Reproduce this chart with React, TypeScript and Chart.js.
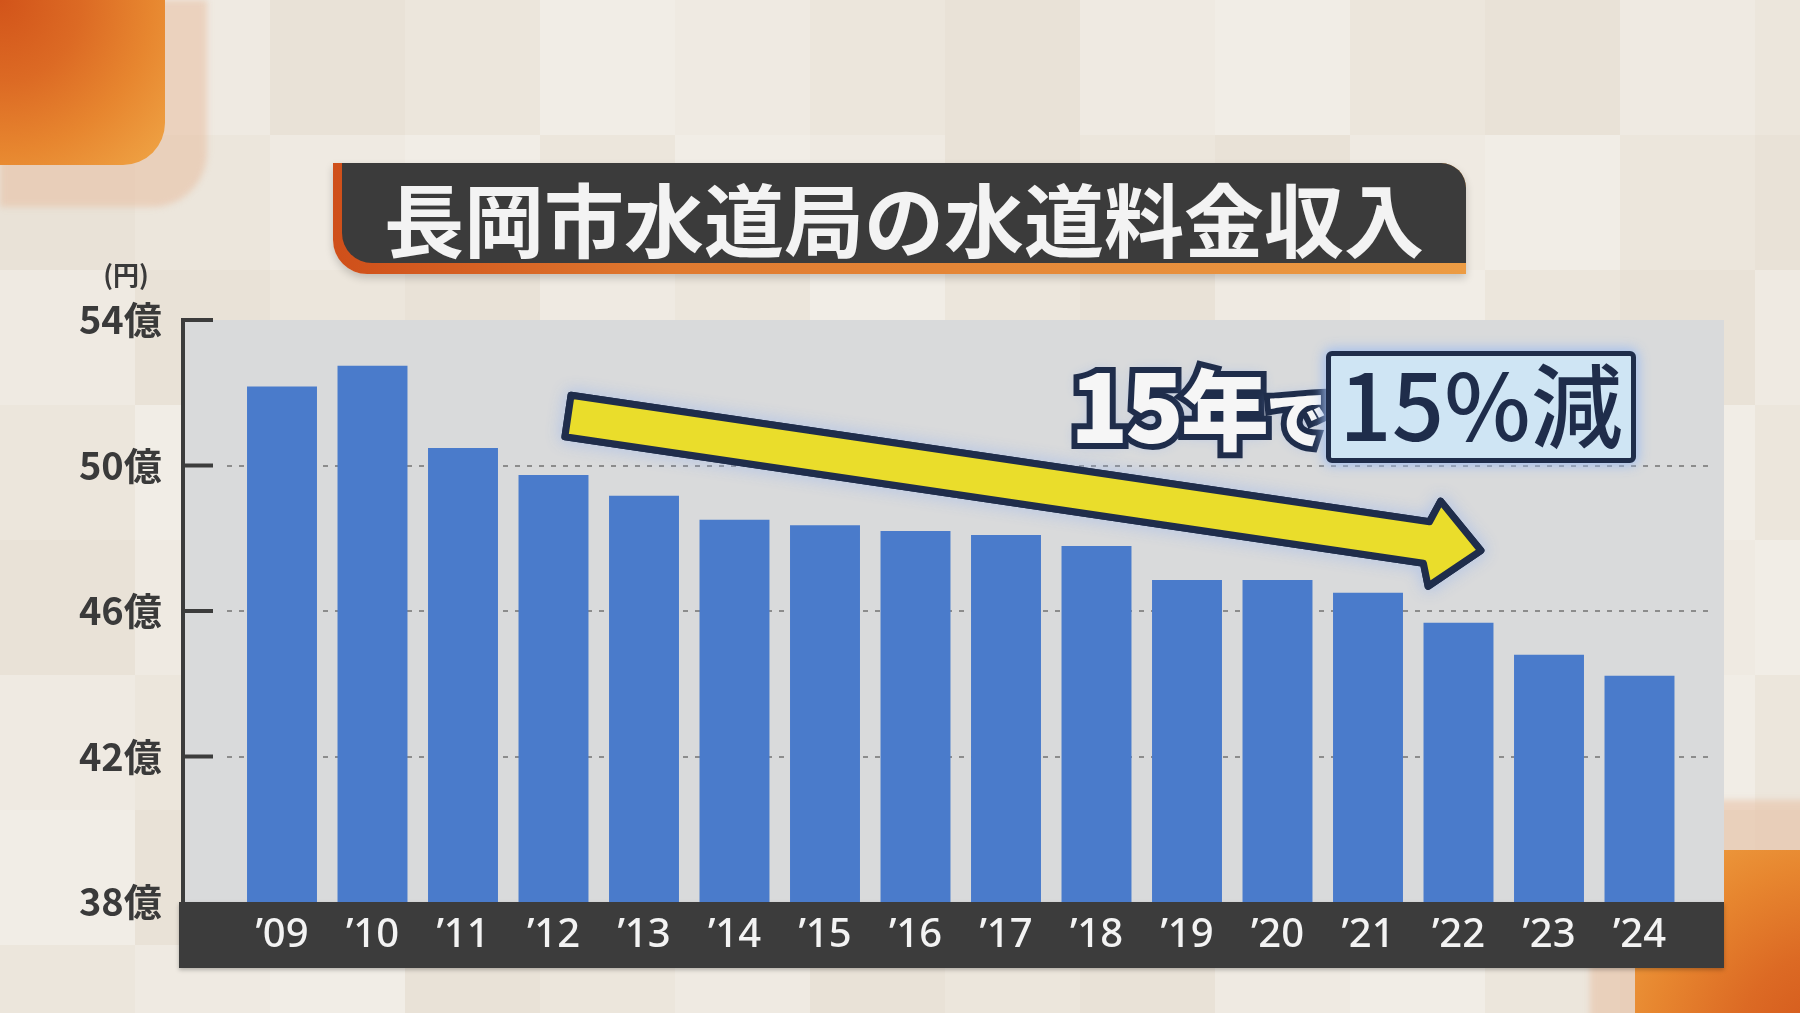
import React, { useEffect, useRef } from "react";
import { Chart, registerables } from "chart.js";

Chart.register(...registerables);

// ---- data ----
const categories = ["’09", "’10", "’11", "’12", "’13", "’14", "’15", "’16", "’17", "’18", "’19", "’20", "’21", "’22", "’23", "’24"];
const revenue = [52.17, 52.74, 50.48, 49.74, 49.17, 48.51, 48.36, 48.2, 48.09, 47.79, 46.85, 46.85, 46.5, 45.68, 44.8, 44.22];
const yTicks = [38, 42, 46, 50, 54];
const dashedTicks = [42, 46, 50];
const yUnit = "億";
const yAxisTitle = "(円)";
const titleText = "長岡市水道局の水道料金収入";
const noteLead = ["15", "年", "で"];
const noteBox = "15%減";
const arrowStart = { index: 3.16, value: 51.36 };
const arrowEnd = { index: 13.28, value: 47.65 };

// ---- layout / style ----
const W = 1800;
const H = 1013;
const Y_AXIS_W = 236.75;
const PAD_RIGHT = 115.25;
const PAD_TOP = 320;
const X_BAND_H = 66;
const PAD_BOTTOM = 45;
const AXIS_LINE_X = 183;
const TICK_END_X = 213;
const PLOT_RIGHT = 1724;
const BAND_LEFT = 179;
const DASH_LEFT = 227;
const DASH_RIGHT = 1708;
const NAVY = "#1f2d4b";
const CJK = "'Noto Sans CJK JP', 'Noto Sans', sans-serif";

const BG_SHADES = ["#ece6dc", "#efeae2", "#e9e2d7", "#f1ede6"];
const BG_PATTERN = [
  "01203102130210",
  "20130312021302",
  "12021030213021",
  "03120213021230",
  "21302120310213",
  "10213031202130",
  "32010213021302",
  "01320120213021",
];
const CELL = 135;

const decorPlugin = {
  id: "decor",
  beforeDraw(chart: any) {
    const { ctx, scales } = chart;
    const x = scales.x;
    const y = scales.y;
    const top = y.getPixelForValue(y.max);
    const bottom = y.getPixelForValue(y.min);
    ctx.save();
    ctx.fillStyle = "#d9dadb";
    ctx.fillRect(AXIS_LINE_X, top, PLOT_RIGHT - AXIS_LINE_X, bottom - top);
    ctx.shadowColor = "rgba(0,0,0,0.25)";
    ctx.shadowBlur = 4;
    ctx.shadowOffsetY = 2;
    ctx.fillStyle = "#3c3c3c";
    ctx.fillRect(BAND_LEFT, bottom, PLOT_RIGHT - BAND_LEFT, x.bottom - bottom);
    ctx.shadowColor = "transparent";
    ctx.strokeStyle = "#8c8c8c";
    ctx.lineWidth = 2;
    ctx.setLineDash([5, 7]);
    dashedTicks.forEach((v) => {
      const py = Math.round(y.getPixelForValue(v));
      ctx.beginPath();
      ctx.moveTo(DASH_LEFT, py);
      ctx.lineTo(DASH_RIGHT, py);
      ctx.stroke();
    });
    ctx.setLineDash([]);
    ctx.strokeStyle = "#3c3c3c";
    ctx.lineWidth = 4;
    ctx.beginPath();
    ctx.moveTo(AXIS_LINE_X, top - 2);
    ctx.lineTo(AXIS_LINE_X, bottom);
    ctx.stroke();
    yTicks.forEach((v) => {
      if (v === y.min) return;
      const py = y.getPixelForValue(v);
      ctx.beginPath();
      ctx.moveTo(AXIS_LINE_X - 2, py);
      ctx.lineTo(TICK_END_X, py);
      ctx.stroke();
    });
    ctx.restore();
  },
  afterDatasetsDraw(chart: any) {
    const { ctx, scales } = chart;
    const x = scales.x;
    const y = scales.y;
    const x0 = x.getPixelForValue(arrowStart.index);
    const y0 = y.getPixelForValue(arrowStart.value);
    const x1 = x.getPixelForValue(arrowEnd.index);
    const y1 = y.getPixelForValue(arrowEnd.value);
    const ang = Math.atan2(y1 - y0, x1 - x0);
    const len = Math.hypot(x1 - x0, y1 - y0) - 3;
    const sw = 21;
    const hw = 43;
    const hl = 47;
    ctx.save();
    ctx.translate(x0, y0);
    ctx.rotate(ang);
    const path = () => {
      ctx.beginPath();
      ctx.moveTo(0, -sw);
      ctx.lineTo(len - hl - 8, -sw);
      ctx.lineTo(len - hl, -hw);
      ctx.lineTo(len, 0);
      ctx.lineTo(len - hl, hw);
      ctx.lineTo(len - hl - 8, sw);
      ctx.lineTo(0, sw);
      ctx.closePath();
    };
    ctx.lineJoin = "round";
    ctx.lineWidth = 7;
    ctx.strokeStyle = NAVY;
    ctx.shadowColor = "rgba(150,180,240,0.9)";
    ctx.shadowBlur = 16;
    path();
    ctx.stroke();
    ctx.shadowColor = "transparent";
    ctx.fillStyle = "#eadd2b";
    path();
    ctx.fill();
    ctx.stroke();
    ctx.restore();
  },
};

function ChartCanvas() {
  const ref = useRef<HTMLCanvasElement | null>(null);
  useEffect(() => {
    if (!ref.current) return;
    const chart = new Chart(ref.current, {
      type: "bar",
      data: {
        labels: categories,
        datasets: [
          {
            data: revenue,
            backgroundColor: "#4a7bcb",
            borderWidth: 0,
            barPercentage: 0.773,
            categoryPercentage: 1,
          },
        ],
      },
      options: {
        animation: false,
        responsive: false,
        devicePixelRatio: 1,
        layout: { padding: { top: PAD_TOP, right: PAD_RIGHT, bottom: PAD_BOTTOM, left: 0 } },
        plugins: { legend: { display: false }, tooltip: { enabled: false } },
        scales: {
          x: {
            offset: true,
            grid: { display: false, drawTicks: false },
            border: { display: false },
            ticks: {
              color: "#f3f3f3",
              padding: 10,
              autoSkip: false,
              maxRotation: 0,
              font: { family: "'Noto Sans', sans-serif", size: 40, weight: "500" },
            },
            afterFit: (s: any) => {
              s.height = X_BAND_H;
            },
          },
          y: {
            min: yTicks[0],
            max: yTicks[yTicks.length - 1],
            afterBuildTicks: (s: any) => {
              s.ticks = yTicks.map((v) => ({ value: v }));
            },
            grid: { display: false, drawTicks: false },
            border: { display: false },
            ticks: {
              padding: 75,
              color: "#3a3a3a",
              font: { family: CJK, size: 38, weight: "bold" },
              callback: (v: any) => `${v}${yUnit}`,
            },
            afterFit: (s: any) => {
              s.width = Y_AXIS_W;
            },
          },
        },
      },
      plugins: [decorPlugin],
    });
    return () => chart.destroy();
  }, []);
  return <canvas ref={ref} width={W} height={H} style={{ position: "absolute", left: 0, top: 0 }} />;
}

export default function App() {
  const cells: React.ReactNode[] = [];
  BG_PATTERN.forEach((row, r) => {
    row.split("").forEach((c, i) => {
      cells.push(
        <div
          key={`${r}-${i}`}
          style={{ position: "absolute", left: i * CELL, top: r * CELL, width: CELL, height: CELL, background: BG_SHADES[Number(c)] }}
        />
      );
    });
  });
  const leadStyle: React.CSSProperties = {
    position: "absolute",
    left: 0,
    top: 0,
    whiteSpace: "nowrap",
    fontFamily: CJK,
    fontWeight: 900,
    lineHeight: 1,
    letterSpacing: -3,
    display: "flex",
    alignItems: "baseline",
  };
  const leadSpans = (
    <>
      <span style={{ fontSize: 96 }}>{noteLead[0]}</span>
      <span style={{ fontSize: 88 }}>{noteLead[1]}</span>
      <span style={{ fontSize: 62 }}>{noteLead[2]}</span>
    </>
  );
  return (
    <div style={{ position: "absolute", left: 0, top: 0, width: W, height: H, overflow: "hidden", background: BG_SHADES[0] }}>
      {cells}
      {/* top-left decoration */}
      <div style={{ position: "absolute", left: 0, top: 0, width: 207, height: 207, borderBottomRightRadius: 55, background: "rgba(232,190,160,0.55)", filter: "blur(3px)" }} />
      <div
        style={{
          position: "absolute",
          left: 0,
          top: 0,
          width: 165,
          height: 165,
          borderBottomRightRadius: 42,
          background: "radial-gradient(circle at 0 0, #d2541a 0%, #dc6a24 35%, #e7862f 65%, #f0a646 100%)",
        }}
      />
      {/* bottom-right decoration */}
      <div style={{ position: "absolute", left: 1590, top: 800, width: 260, height: 260, borderTopLeftRadius: 55, background: "rgba(232,190,160,0.55)", filter: "blur(3px)" }} />
      <div
        style={{
          position: "absolute",
          left: 1635,
          top: 850,
          width: 200,
          height: 200,
          borderTopLeftRadius: 42,
          background: "radial-gradient(circle at 100% 100%, #d2541a 0%, #dc6a24 35%, #e7862f 65%, #f0a646 100%)",
        }}
      />
      <ChartCanvas />
      {/* y unit */}
      <div style={{ position: "absolute", left: 98, top: 261, width: 56, textAlign: "center", fontFamily: CJK, fontWeight: 700, fontSize: 26, lineHeight: 1, color: "#3a3a3a" }}>
        {yAxisTitle}
      </div>
      {/* title */}
      <div
        style={{
          position: "absolute",
          left: 333,
          top: 163,
          width: 1133,
          height: 111,
          borderRadius: "0 25px 0 34px",
          background: "linear-gradient(to right, #cf4f1a, #e07a30 30%, #ec9c44)",
          boxShadow: "0 4px 8px rgba(0,0,0,0.18)",
        }}
      />
      <div
        style={{
          position: "absolute",
          left: 342,
          top: 163,
          width: 1124,
          height: 100,
          borderRadius: "0 25px 0 30px",
          background: "#3b3b3b",
          display: "flex",
          alignItems: "center",
          justifyContent: "center",
          color: "#f3f3f3",
          fontFamily: CJK,
          fontWeight: 700,
          fontSize: 80,
          lineHeight: 1,
          paddingTop: 6,
          boxSizing: "border-box",
        }}
      >
        {titleText}
      </div>
      {/* annotation */}
      <div style={{ position: "absolute", left: 1070, top: 354 }}>
        <div
          style={{
            ...leadStyle,
            color: NAVY,
            WebkitTextStroke: `12px ${NAVY}`,
            textShadow: "0 0 14px rgba(150,180,240,0.95)",
          }}
        >
          {leadSpans}
        </div>
        <div style={{ ...leadStyle, color: "#f6f6f6" }}>{leadSpans}</div>
      </div>
      <div
        style={{
          position: "absolute",
          left: 1326,
          top: 351,
          width: 310,
          height: 112,
          boxSizing: "border-box",
          border: `5px solid ${NAVY}`,
          borderRadius: 6,
          background: "#cfe5f4",
          boxShadow: "0 0 12px 3px rgba(160,190,240,0.9)",
          display: "flex",
          alignItems: "center",
          justifyContent: "center",
          color: NAVY,
          fontFamily: CJK,
          fontWeight: 500,
          fontSize: 92,
          lineHeight: 1,
          paddingBottom: 12,
          whiteSpace: "nowrap",
        }}
      >
        {noteBox}
      </div>
    </div>
  );
}
